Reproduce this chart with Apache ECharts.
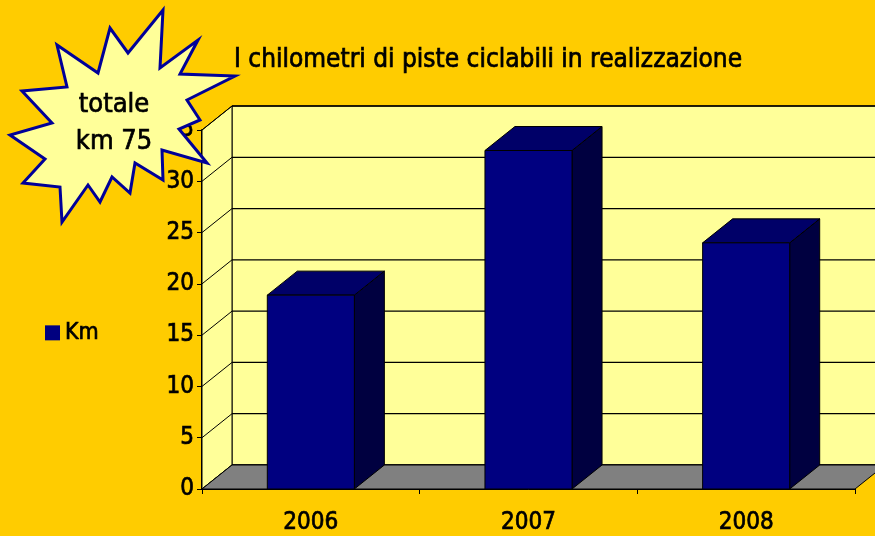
<!DOCTYPE html>
<html>
<head>
<meta charset="utf-8">
<script src="https://cdn.jsdelivr.net/npm/echarts@6/dist/echarts.min.js"></script>
<style>
  html, body { margin: 0; padding: 0; background: #ffcc00; }
  #chart { width: 875px; height: 536px; }
</style>
</head>
<body>
<div id="chart"></div>
<script>
const categories = ['2006', '2007', '2008']
const kmValues = [18.9, 33, 24]     // Km per anno
const yTicks = [0, 5, 10, 15, 20, 25, 30, 35]
const totalLabel = ['totale', 'km 75']

const FONT = '"Liberation Sans Narrow", "DejaVu Sans Condensed", Arial, sans-serif'
const DX = 30, DY = -24   // profondità 3D

// stella "totale"
const starPoints = [
  [163, 10], [160, 68], [198, 40], [180, 74], [235, 76], [187, 100], [200, 120],
  [179, 129], [207, 163], [162, 150], [163, 180], [135, 163], [130, 193], [112, 177],
  [100, 202], [88, 185], [62, 222], [60, 187], [23, 183], [45, 159], [10, 135],
  [52, 123], [22, 91], [67, 87], [57, 45], [98, 73], [110, 28], [128, 53]
]

const chart = echarts.init(document.getElementById('chart'))

function renderWalls(params, api) {
  const cs = params.coordSys
  const x0 = cs.x, x1 = cs.x + cs.width
  const yBottom = api.coord([0, 0])[1]
  const yTop = api.coord([0, yTicks[yTicks.length - 1]])[1]
  const children = []
  // parete di fondo
  children.push({
    type: 'rect',
    shape: { x: x0 + DX, y: yTop + DY, width: x1 - x0, height: yBottom - yTop },
    style: { fill: '#ffff99', stroke: '#000', lineWidth: 1 }
  })
  // parete laterale
  children.push({
    type: 'polygon',
    shape: { points: [[x0, yBottom], [x0, yTop], [x0 + DX, yTop + DY], [x0 + DX, yBottom + DY]] },
    style: { fill: '#ffff99', stroke: '#000', lineWidth: 1 }
  })
  // griglia
  yTicks.forEach(v => {
    const y = api.coord([0, v])[1]
    children.push({
      type: 'line',
      shape: { x1: x0 + DX, y1: y + DY, x2: x1 + DX, y2: y + DY },
      style: { stroke: '#000', lineWidth: 1.3 }
    })
    children.push({
      type: 'line',
      shape: { x1: x0, y1: y, x2: x0 + DX, y2: y + DY },
      style: { stroke: '#000', lineWidth: 1 }
    })
  })
  // pavimento
  children.push({
    type: 'polygon',
    shape: { points: [[x0, yBottom], [x1, yBottom], [x1 + DX, yBottom + DY], [x0 + DX, yBottom + DY]] },
    style: { fill: '#808080', stroke: '#000', lineWidth: 1 }
  })
  return { type: 'group', children }
}

function renderBar(params, api) {
  const idx = api.value(0)
  const base = api.coord([idx, 0])
  const top = api.coord([idx, api.value(1)])
  const w = api.size([1, 0])[0] * 0.4
  const xl = base[0] - w / 2, xr = base[0] + w / 2
  const yt = top[1], yb = base[1]
  return {
    type: 'group',
    children: [
      {
        type: 'polygon',
        shape: { points: [[xr, yt], [xr + DX, yt + DY], [xr + DX, yb + DY], [xr, yb]] },
        style: { fill: '#000040', stroke: '#000', lineWidth: 1 }
      },
      {
        type: 'polygon',
        shape: { points: [[xl, yt], [xr, yt], [xr + DX, yt + DY], [xl + DX, yt + DY]] },
        style: { fill: '#000068', stroke: '#000', lineWidth: 1 }
      },
      {
        type: 'rect',
        shape: { x: xl, y: yt, width: w, height: yb - yt },
        style: { fill: '#000080', stroke: '#000', lineWidth: 1 }
      }
    ]
  }
}

const heavy = { textBorderColor: '#000', textBorderWidth: 0.7 }

const option = {
  backgroundColor: '#ffcc00',
  animation: false,
  title: {
    text: 'I chilometri di piste ciclabili in realizzazione',
    left: 229,
    top: 42,
    textStyle: Object.assign({ fontFamily: FONT, fontSize: 26, fontWeight: 'normal', color: '#000' }, heavy)
  },
  legend: {
    data: ['Km'],
    left: 40,
    top: 316,
    icon: 'rect',
    itemWidth: 15,
    itemHeight: 15,
    itemGap: 5,
    textStyle: Object.assign({ fontFamily: FONT, fontSize: 23, color: '#000' }, heavy)
  },
  grid: { left: 202, right: 20, top: 130, bottom: 47 },
  xAxis: {
    type: 'category',
    data: categories,
    axisLine: { lineStyle: { color: '#000', width: 1 } },
    axisTick: { show: true, length: 5, lineStyle: { color: '#000' } },
    axisLabel: Object.assign({ fontFamily: FONT, fontSize: 24, color: '#000', margin: 22 }, heavy),
    splitLine: { show: false }
  },
  yAxis: {
    type: 'value',
    min: 0,
    max: 35,
    interval: 5,
    axisLine: { show: true, lineStyle: { color: '#000', width: 2 } },
    axisTick: { show: true, length: 5, lineStyle: { color: '#000' } },
    axisLabel: Object.assign({ fontFamily: FONT, fontSize: 24, color: '#000', margin: 8 }, heavy),
    splitLine: { show: false }
  },
  series: [
    {
      name: 'walls',
      type: 'custom',
      silent: true,
      z: 1,
      renderItem: renderWalls,
      data: [[0, 0]]
    },
    {
      name: 'Km',
      type: 'custom',
      z: 2,
      itemStyle: { color: '#000080' },
      renderItem: renderBar,
      encode: { x: 0, y: 1 },
      data: kmValues.map((v, i) => [i, v])
    }
  ],
  graphic: [
    {
      type: 'polygon',
      z: 100,
      shape: { points: starPoints },
      style: { fill: '#ffff99', stroke: '#000099', lineWidth: 3, lineJoin: 'miter' }
    },
    {
      type: 'text',
      z: 101,
      x: 114,
      y: 123,
      style: {
        text: totalLabel.join('\n'),
        font: '27px ' + FONT,
        lineHeight: 37,
        fill: '#000',
        stroke: '#000',
        lineWidth: 0.7,
        align: 'center',
        verticalAlign: 'middle'
      }
    }
  ]
}

chart.setOption(option)
</script>
</body>
</html>
